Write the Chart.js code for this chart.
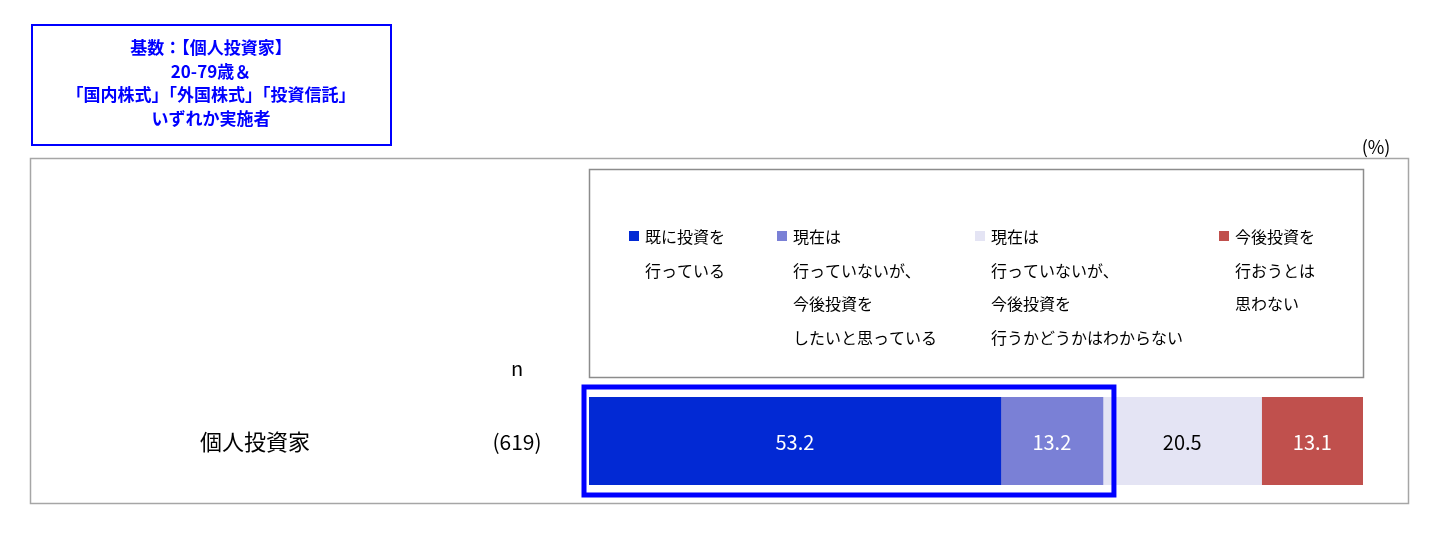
<!DOCTYPE html>
<html>
<head>
<meta charset="utf-8">
<script src="https://cdn.jsdelivr.net/npm/chart.js@4"></script>
<style>
  html, body { margin: 0; padding: 0; background: #ffffff; }
  #wrap { position: relative; width: 1445px; height: 543px; }
</style>
</head>
<body>
<div id="wrap"><canvas id="chart" width="1445" height="543"></canvas></div>
<script>
const categories = ['個人投資家'];
const sampleSizes = ['(619)'];
const seriesLabels = [
    ['既に投資を', '行っている'],
    ['現在は', '行っていないが、', '今後投資を', 'したいと思っている'],
    ['現在は', '行っていないが、', '今後投資を', '行うかどうかはわからない'],
    ['今後投資を', '行おうとは', '思わない']
];
const seriesValues = [[53.2], [13.2], [20.5], [13.1]];
const seriesColors = ['#0229d4', '#7a80d6', '#e4e4f4', '#c0504d'];
const labelColors = ['#ffffff', '#ffffff', '#000000', '#ffffff'];
const baseNote = ['基数：【個人投資家】', '20-79歳＆', '「国内株式」「外国株式」「投資信託」', 'いずれか実施者'];

const jpFont = '"Noto Sans CJK JP", "Noto Sans", sans-serif';

const decorPlugin = {
    id: 'decor',
    beforeDraw(chart) {
        const ctx = chart.ctx;
        ctx.save();
        ctx.fillStyle = '#ffffff';
        ctx.fillRect(0, 0, chart.width, chart.height);

        // outer panel
        ctx.strokeStyle = '#a6a6a6';
        ctx.lineWidth = 1.5;
        ctx.strokeRect(30.5, 158.5, 1378, 345);

        // legend box
        ctx.strokeStyle = '#8c8c8c';
        ctx.lineWidth = 1.5;
        ctx.strokeRect(589.5, 169.5, 774, 208);

        // base note box
        ctx.strokeStyle = '#0000ff';
        ctx.lineWidth = 2;
        ctx.strokeRect(32, 25, 359, 120);
        ctx.fillStyle = '#0000ff';
        ctx.font = 'bold 17px ' + jpFont;
        ctx.textAlign = 'center';
        ctx.textBaseline = 'middle';
        baseNote.forEach((t, i) => ctx.fillText(t, 211, 48 + i * 23.5));

        // unit
        ctx.fillStyle = '#000000';
        ctx.font = '18px ' + jpFont;
        ctx.fillText('(%)', 1376, 147);

        // legend
        const colX = [629, 777, 975, 1219];
        ctx.textAlign = 'left';
        ctx.font = '16px ' + jpFont;
        seriesLabels.forEach((lines, i) => {
            ctx.fillStyle = seriesColors[i];
            ctx.fillRect(colX[i], 231, 10, 10);
            ctx.fillStyle = '#000000';
            lines.forEach((t, j) => ctx.fillText(t, colX[i] + 16, 237 + j * 33.5));
        });

        // row texts
        const yScale = chart.scales.y;
        ctx.font = '20px ' + jpFont;
        ctx.textAlign = 'center';
        ctx.fillText('n', 517, 368);
        categories.forEach((c, i) => {
            const y = yScale.getPixelForValue(i);
            ctx.font = '22px ' + jpFont;
            ctx.fillText(c, 255, y + 1);
            ctx.font = '21px ' + jpFont;
            ctx.fillText(sampleSizes[i], 517, y + 1);
        });
        ctx.restore();
    },
    afterDatasetsDraw(chart) {
        const ctx = chart.ctx;
        ctx.save();
        ctx.font = '20px ' + jpFont;
        ctx.textAlign = 'center';
        ctx.textBaseline = 'middle';
        chart.data.datasets.forEach((ds, i) => {
            chart.getDatasetMeta(i).data.forEach((bar, j) => {
                ctx.fillStyle = labelColors[i];
                ctx.fillText(ds.data[j].toFixed(1), (bar.x + bar.base) / 2, bar.y + 1);
            });
        });

        // highlight first two segments
        const m0 = chart.getDatasetMeta(0).data[0];
        const m1 = chart.getDatasetMeta(1).data[0];
        const left = m0.base - 5;
        const right = m1.x + 11;
        ctx.strokeStyle = '#0000ff';
        ctx.lineWidth = 5;
        ctx.strokeRect(left, m0.y - m0.height / 2 - 10, right - left, m0.height + 20);
        ctx.restore();
    }
};

new Chart(document.getElementById('chart'), {
    type: 'bar',
    data: {
        labels: categories,
        datasets: seriesValues.map((v, i) => ({
            label: seriesLabels[i].join(''),
            data: v,
            backgroundColor: seriesColors[i],
            borderWidth: 0,
            barPercentage: 1,
            categoryPercentage: 1
        }))
    },
    options: {
        indexAxis: 'y',
        responsive: false,
        animation: false,
        layout: { padding: { left: 589, right: 82, top: 397, bottom: 58 } },
        scales: {
            x: { stacked: true, min: 0, max: 100, display: false },
            y: { stacked: true, display: false }
        },
        plugins: {
            legend: { display: false },
            tooltip: { enabled: false }
        }
    },
    plugins: [decorPlugin]
});
</script>
</body>
</html>
